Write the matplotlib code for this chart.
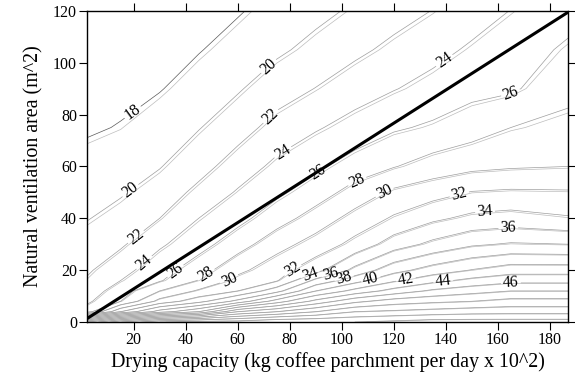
import numpy as np
import matplotlib
matplotlib.use("Agg")
import matplotlib.pyplot as plt

plt.rcParams['font.family'] = ['Liberation Serif', 'DejaVu Serif']

# grid of the estimated field
x_grid = [2, 15, 30, 45, 60, 75, 90, 105, 120, 135, 150, 165, 187]
y_grid = [0, 4, 8, 12, 16, 20, 30, 40, 50, 60, 75, 90, 105, 120]
z_grid = [
    [44, 50, 54, 55, 55, 56, 56, 56, 56.5, 57, 57, 57, 57],
    [24.9, 32, 37, 40, 46, 48, 50, 52, 52.4, 52.8, 53.2, 53.3, 53.3],
    [23.6, 26, 30.7, 33.3, 36.7, 41, 44.7, 47.5, 49, 49.6, 50, 50.7, 50.7],
    [22.9, 25, 28, 30.3, 32, 35.3, 40, 42.7, 44.8, 46.4, 47.3, 48, 48],
    [22.2, 24, 25.8, 28.1, 30.6, 31.8, 36.6, 39.2, 41.7, 43.4, 44.6, 45.4, 45.4],
    [21.7, 23.3, 25.2, 27.1, 29.5, 31.2, 33.25, 36.6, 39.3, 40.9, 42.1, 43.1, 43.1],
    [20.8, 21.7, 23.7, 25.25, 27.1, 29.25, 30.8, 32.6, 35, 36.5, 37.7, 38.2, 38],
    [19.9, 20.7, 22, 24, 25.4, 27.1, 28.9, 30.7, 32.25, 33.6, 34.5, 34.8, 34.2],
    [19.3, 19.8, 20.9, 22.5, 24.2, 25.6, 27.0, 28.8, 30.4, 31.2, 32.1, 32.3, 32.2],
    [18.7, 19.1, 19.9, 21.3, 22.9, 24.5, 25.6, 26.9, 27.9, 28.9, 29.5, 29.8, 30],
    [17.75, 18.1, 18.9, 19.9, 21.2, 22.7, 23.8, 24.75, 25.75, 26.3, 27.1, 28, 28.6],
    [17.3, 17.5, 17.9, 18.8, 19.8, 21.1, 22.05, 23.1, 23.9, 24.7, 25.4, 25.7, 27.4],
    [17.0, 17.2, 17.5, 17.9, 18.7, 19.65, 20.6, 21.55, 22.5, 23.35, 24.3, 25.1, 26.3],
    [16.6, 16.8, 17.1, 17.5, 17.85, 18.65, 19.45, 20.3, 21.2, 22.05, 23.05, 24.05, 25.3],
]
levels = list(range(14, 59, 2))
shadow_offset = 0.15

# contour labels: (level, x, y)
label_levels = [18, 20, 20, 22, 22, 24, 24, 24, 26, 26, 26, 28, 28, 30, 30,
                32, 32, 34, 34, 36, 36, 38, 40, 42, 44, 46]
label_x = [21, 72, 20, 73, 21.5, 77, 24, 140, 91, 37, 166, 106, 48, 116, 57,
           145, 82, 155, 88, 164, 96, 101, 111, 124.5, 139, 165]
label_y = [79, 98.5, 49, 79, 32, 66, 23, 100, 57, 18.5, 86, 54, 18, 51, 16,
           50, 18.5, 43.5, 18, 36.5, 18, 16.5, 17, 17, 16, 15]

# thick reference line
diag_x = [0, 187]
diag_y = [0, 119.5]

xticks = [20, 40, 60, 80, 100, 120, 140, 160, 180]
yticks = [0, 20, 40, 60, 80, 100, 120]

fig = plt.figure(figsize=(5.75, 3.74), dpi=100)
ax = fig.add_axes([0.151, 0.139, 0.837, 0.832])

X, Y = np.meshgrid(x_grid, y_grid)
Z = np.array(z_grid)

line_color = '0.62'
line_width = 0.5

ax.contour(X, Y, Z, levels=[l + shadow_offset for l in levels],
           colors='0.74', linewidths=0.5)

labeled = sorted(set(label_levels))
plain = [l for l in levels if l not in labeled]
ax.contour(X, Y, Z, levels=plain, colors=line_color, linewidths=line_width)

for lv in labeled:
    col = '0.35' if lv == 18 else line_color
    cs = ax.contour(X, Y, Z, levels=[lv], colors=col, linewidths=line_width)
    pts = [(lx, ly) for L, lx, ly in zip(label_levels, label_x, label_y) if L == lv]
    ax.clabel(cs, manual=pts, inline=True, inline_spacing=2, fmt='%1.0f',
              fontsize=11.5, colors='black')

ax.plot(diag_x, diag_y, color='black', linewidth=2.2, solid_capstyle='butt')

ax.set_xlim(2, 187)
ax.set_ylim(0, 120)
ax.set_xticks(xticks)
ax.set_yticks(yticks)
ax.tick_params(axis='both', which='both', direction='out', length=6, width=0.8,
               labelsize=11.5, top=True, right=True, pad=1)
for s in ax.spines.values():
    s.set_linewidth(1.0)

ax.set_xlabel('Drying capacity (kg coffee parchment per day x 10^2)', fontsize=14.4, labelpad=3)
ax.set_ylabel('Natural ventilation area (m^2)', fontsize=14.4, labelpad=7)

fig.savefig('out.png', dpi=100)
